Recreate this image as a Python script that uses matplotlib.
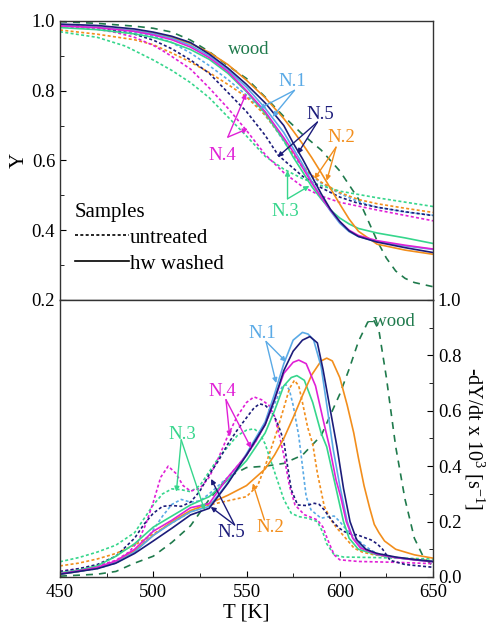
import matplotlib
matplotlib.use("Agg")
import matplotlib.pyplot as plt
from matplotlib.lines import Line2D

plt.rcParams['font.family'] = ['Liberation Serif', 'DejaVu Serif']
plt.rcParams['mathtext.fontset'] = 'custom'
plt.rcParams['mathtext.rm'] = 'Liberation Serif'
plt.rcParams['mathtext.it'] = 'Liberation Serif:italic'

# colours of the samples
c_n1 = '#5aaae6'
c_n2 = '#f28e1c'
c_n3 = '#36d68c'
c_n4 = '#e020d6'
c_n5 = '#1c1c7a'
c_wood = '#1f7a4c'

# ---------------- top panel: Y (mass fraction) ----------------
wood_T = [450, 470, 490, 500, 510, 520, 530, 540, 550, 560, 570, 580, 590, 600,
          610, 615, 620, 625, 630, 635, 640, 650]
wood_Y = [0.998, 0.993, 0.985, 0.979, 0.968, 0.945, 0.912, 0.872, 0.835, 0.782, 0.726,
          0.675, 0.63, 0.57, 0.49, 0.43, 0.37, 0.32, 0.283, 0.262, 0.25, 0.238]

solid_T = [450, 470, 490, 500, 510, 520, 530, 540, 550, 560, 570, 575, 580, 585,
           590, 595, 600, 605, 610, 620, 635, 650]
n1_Y_hw = [0.987, 0.982, 0.972, 0.963, 0.95, 0.93, 0.9, 0.86, 0.81, 0.75, 0.68, 0.635,
           0.59, 0.54, 0.495, 0.455, 0.42, 0.396, 0.382, 0.367, 0.355, 0.345]
n2_Y_hw = [0.987, 0.982, 0.972, 0.964, 0.953, 0.935, 0.91, 0.875, 0.83, 0.78, 0.72, 0.685,
           0.648, 0.608, 0.565, 0.52, 0.475, 0.432, 0.397, 0.36, 0.343, 0.331]
n3_Y_hw = [0.981, 0.975, 0.963, 0.953, 0.938, 0.918, 0.89, 0.85, 0.797, 0.735, 0.658, 0.61,
           0.568, 0.525, 0.49, 0.458, 0.435, 0.418, 0.405, 0.392, 0.378, 0.362]
n4_Y_hw = [0.986, 0.981, 0.97, 0.96, 0.946, 0.925, 0.895, 0.855, 0.80, 0.74, 0.665, 0.625,
           0.58, 0.535, 0.495, 0.458, 0.425, 0.4, 0.385, 0.37, 0.357, 0.346]
n5_Y_hw = [0.991, 0.987, 0.977, 0.968, 0.956, 0.938, 0.905, 0.865, 0.818, 0.765, 0.7, 0.65,
           0.605, 0.555, 0.505, 0.46, 0.425, 0.398, 0.382, 0.366, 0.35, 0.336]

n1_T_un = [450, 480, 500, 510, 520, 530, 540, 550, 557, 565, 570, 575, 580, 585, 590,
           600, 610, 620, 635, 650]
n1_Y_un = [0.986, 0.976, 0.957, 0.938, 0.908, 0.872, 0.832, 0.787, 0.75, 0.695, 0.655,
           0.615, 0.58, 0.555, 0.535, 0.505, 0.482, 0.466, 0.452, 0.443]
n2_T_un = [450, 470, 490, 500, 510, 520, 530, 540, 550, 560, 570, 575, 580, 585, 590,
           600, 610, 620, 635, 650]
n2_Y_un = [0.974, 0.962, 0.946, 0.932, 0.908, 0.882, 0.852, 0.818, 0.782, 0.73, 0.66,
           0.62, 0.585, 0.558, 0.538, 0.508, 0.488, 0.476, 0.463, 0.451]
n3_T_un = [450, 470, 485, 500, 510, 520, 530, 540, 550, 560, 570, 580, 590, 600, 620, 650]
n3_Y_un = [0.969, 0.953, 0.928, 0.888, 0.858, 0.823, 0.78, 0.725, 0.67, 0.612, 0.575,
           0.548, 0.528, 0.512, 0.493, 0.468]
n4_T_un = [450, 470, 480, 490, 500, 505, 510, 520, 530, 540, 550, 560, 570, 580, 590,
           600, 620, 650]
n4_Y_un = [0.985, 0.976, 0.967, 0.953, 0.93, 0.915, 0.898, 0.862, 0.808, 0.75, 0.686,
           0.617, 0.565, 0.525, 0.498, 0.48, 0.458, 0.427]
n5_T_un = [450, 470, 490, 500, 510, 520, 530, 540, 550, 560, 567, 575, 580, 590, 600,
           610, 620, 635, 650]
n5_Y_un = [0.989, 0.982, 0.962, 0.945, 0.92, 0.888, 0.85, 0.795, 0.74, 0.672, 0.615,
           0.578, 0.555, 0.522, 0.495, 0.477, 0.466, 0.453, 0.442]

# ---------------- bottom panel: -dY/dt x 10^3 [1/s] ----------------
wood_T_d = [450, 470, 480, 490, 500, 510, 520, 530, 540, 550, 560, 570, 580, 590, 600,
            605, 610, 615, 618, 621, 625, 630, 635, 640, 645, 650]
wood_D = [0.003, 0.01, 0.02, 0.05, 0.075, 0.125, 0.185, 0.28, 0.36, 0.395, 0.40, 0.41,
          0.44, 0.51, 0.66, 0.75, 0.85, 0.92, 0.93, 0.89, 0.72, 0.47, 0.28, 0.14, 0.07, 0.04]

n1_T_hwd = [450, 460, 470, 480, 490, 500, 510, 520, 530, 540, 550, 560, 565, 570, 575,
            580, 583, 586, 590, 593.5, 596.5, 600, 604, 607, 612, 620, 630, 640, 650]
n1_D_hw = [0.01, 0.02, 0.032, 0.052, 0.09, 0.15, 0.195, 0.235, 0.255, 0.34, 0.445, 0.56,
           0.66, 0.77, 0.855, 0.883, 0.877, 0.855, 0.76, 0.6, 0.46, 0.33, 0.2, 0.14, 0.105,
           0.082, 0.07, 0.062, 0.056]
n2_T_hwd = [450, 460, 470, 480, 490, 500, 510, 520, 530, 540, 550, 560, 565, 570, 575,
            580, 585, 590, 593, 596, 600, 604, 607.5, 610, 613, 616, 618.5, 621, 624, 630,
            640, 650]
n2_D_hw = [0.01, 0.02, 0.032, 0.055, 0.095, 0.15, 0.2, 0.24, 0.265, 0.295, 0.33, 0.39,
           0.44, 0.5, 0.575, 0.655, 0.73, 0.78, 0.79, 0.78, 0.72, 0.62, 0.52, 0.43, 0.33,
           0.25, 0.19, 0.16, 0.13, 0.1, 0.08, 0.068]
n3_T_hwd = [450, 460, 470, 480, 490, 500, 510, 520, 530, 540, 550, 560, 565, 570, 574,
            577, 581, 585.5, 590, 593, 598, 602, 605, 610, 620, 630, 640, 650]
n3_D_hw = [0.015, 0.025, 0.04, 0.075, 0.12, 0.18, 0.22, 0.26, 0.29, 0.35, 0.42, 0.52,
           0.6, 0.69, 0.72, 0.727, 0.71, 0.63, 0.52, 0.47, 0.32, 0.2, 0.14, 0.1, 0.08,
           0.07, 0.062, 0.056]
n4_T_hwd = [450, 460, 470, 480, 490, 500, 510, 520, 530, 540, 550, 555, 560, 565, 570,
            575, 578, 582, 587, 591, 594.5, 598, 600.5, 603.5, 607, 611, 620, 630, 640, 650]
n4_D_hw = [0.012, 0.022, 0.035, 0.058, 0.1, 0.165, 0.205, 0.25, 0.265, 0.36, 0.44, 0.49,
           0.55, 0.64, 0.735, 0.775, 0.783, 0.77, 0.69, 0.57, 0.47, 0.35, 0.29, 0.2, 0.14,
           0.105, 0.082, 0.07, 0.062, 0.055]
n5_T_hwd = [450, 460, 470, 480, 490, 500, 510, 520, 530, 540, 550, 560, 565, 570, 575,
            580, 584, 588, 591, 595, 598.5, 602, 605.5, 609, 614, 620, 630, 640, 650]
n5_D_hw = [0.01, 0.02, 0.03, 0.05, 0.085, 0.13, 0.176, 0.224, 0.248, 0.338, 0.44, 0.55,
           0.64, 0.745, 0.815, 0.855, 0.868, 0.845, 0.75, 0.6, 0.47, 0.32, 0.2, 0.135, 0.1,
           0.085, 0.072, 0.063, 0.056]

n1_T_und = [450, 460, 470, 480, 490, 495, 500, 505, 510, 515, 520, 525, 530, 540, 550,
            555, 560, 565, 569, 571, 573, 575, 578, 580, 582, 584.6, 590, 594, 597, 600,
            602.4, 606, 609.5, 613, 616.7, 620, 630, 640, 650]
n1_D_un = [0.012, 0.02, 0.03, 0.05, 0.09, 0.125, 0.17, 0.22, 0.262, 0.28, 0.27, 0.275,
           0.3, 0.36, 0.44, 0.49, 0.555, 0.625, 0.685, 0.695, 0.675, 0.62, 0.51, 0.40,
           0.29, 0.242, 0.212, 0.218, 0.22, 0.2, 0.18, 0.155, 0.134, 0.115, 0.097, 0.085,
           0.07, 0.062, 0.056]
n2_T_und = [450, 460, 470, 480, 490, 500, 510, 520, 530, 540, 550, 556, 560, 563, 566,
            570, 573, 575.7, 578, 580, 582.8, 585.5, 588, 591.7, 595.3, 598, 602.4, 607.7,
            612, 618.4, 630, 650]
n2_D_un = [0.04, 0.05, 0.065, 0.085, 0.115, 0.155, 0.195, 0.235, 0.26, 0.275, 0.29, 0.33,
           0.4, 0.46, 0.52, 0.61, 0.68, 0.71, 0.69, 0.63, 0.54, 0.48, 0.375, 0.255, 0.206,
           0.18, 0.146, 0.104, 0.09, 0.08, 0.07, 0.058]
n3_T_und = [450, 460, 470, 480, 490, 495, 500, 505, 510, 515, 520, 525, 530, 535, 540,
            545, 550, 554, 557, 560, 563, 566, 570, 574, 578, 583, 588, 591, 593, 597, 602,
            620, 650]
n3_D_un = [0.055, 0.07, 0.09, 0.115, 0.16, 0.21, 0.26, 0.3, 0.318, 0.315, 0.308, 0.33,
           0.38, 0.43, 0.47, 0.51, 0.53, 0.535, 0.52, 0.48, 0.42, 0.36, 0.28, 0.23, 0.218,
           0.212, 0.2, 0.16, 0.12, 0.08, 0.072, 0.07, 0.065]
n4_T_und = [450, 460, 470, 480, 487, 492, 496, 500, 504, 508, 512, 516, 520, 525, 530,
            535, 540, 545, 550, 554, 558, 562, 565, 568, 570, 573, 576, 581, 588, 591,
            593.5, 597, 600, 610, 630, 650]
n4_D_un = [0.02, 0.03, 0.04, 0.06, 0.09, 0.13, 0.19, 0.27, 0.36, 0.40, 0.375, 0.33, 0.31,
           0.32, 0.36, 0.43, 0.51, 0.58, 0.63, 0.65, 0.64, 0.62, 0.58, 0.5, 0.44, 0.33,
           0.26, 0.225, 0.206, 0.18, 0.135, 0.08, 0.062, 0.056, 0.053, 0.048]
n5_T_und = [450, 460, 470, 480, 490, 495, 500, 505, 510, 515, 520, 525, 530, 535, 540,
            545, 550, 554, 557, 560, 563, 566, 568, 570, 572, 574, 577.4, 582, 586.4, 589,
            591.7, 594, 597, 600, 602.4, 606, 609.5, 613, 616.7, 620, 623, 627, 635, 650]
n5_D_un = [0.02, 0.03, 0.045, 0.075, 0.14, 0.19, 0.23, 0.255, 0.258, 0.255, 0.27, 0.31,
           0.37, 0.42, 0.48, 0.53, 0.575, 0.61, 0.625, 0.62, 0.6, 0.565, 0.53, 0.49, 0.4,
           0.315, 0.26, 0.258, 0.266, 0.262, 0.242, 0.22, 0.194, 0.175, 0.164, 0.155,
           0.152, 0.143, 0.134, 0.12, 0.1, 0.06, 0.045, 0.035]

fig = plt.figure(figsize=(4.91, 6.29), dpi=100)
ax1 = fig.add_axes([0.1222, 0.5231, 0.7597, 0.4436])
ax2 = fig.add_axes([0.1222, 0.0827, 0.7597, 0.4404], sharex=ax1)

lw = 1.2
und = (0, (1.8, 1.4))
wood_ls = (0, (4.2, 3.6))

# top panel curves
ax1.plot(wood_T, wood_Y, color=c_wood, lw=lw, ls=wood_ls)
for T, Y, c in [(n1_T_un, n1_Y_un, c_n1), (n2_T_un, n2_Y_un, c_n2), (n3_T_un, n3_Y_un, c_n3),
                (n4_T_un, n4_Y_un, c_n4), (n5_T_un, n5_Y_un, c_n5)]:
    ax1.plot(T, Y, color=c, lw=lw, ls=und)
for Y, c in [(n3_Y_hw, c_n3), (n2_Y_hw, c_n2), (n1_Y_hw, c_n1), (n4_Y_hw, c_n4),
             (n5_Y_hw, c_n5)]:
    ax1.plot(solid_T, Y, color=c, lw=lw)

# bottom panel curves
ax2.plot(wood_T_d, wood_D, color=c_wood, lw=lw, ls=wood_ls)
for T, D, c in [(n1_T_und, n1_D_un, c_n1), (n2_T_und, n2_D_un, c_n2),
                (n3_T_und, n3_D_un, c_n3), (n4_T_und, n4_D_un, c_n4),
                (n5_T_und, n5_D_un, c_n5)]:
    ax2.plot(T, D, color=c, lw=lw, ls=und)
for T, D, c in [(n3_T_hwd, n3_D_hw, c_n3), (n2_T_hwd, n2_D_hw, c_n2),
                (n1_T_hwd, n1_D_hw, c_n1), (n4_T_hwd, n4_D_hw, c_n4),
                (n5_T_hwd, n5_D_hw, c_n5)]:
    ax2.plot(T, D, color=c, lw=lw)

lab_fs = 13.5


def label(ax, txt, pos, start, tips, c):
    ax.text(pos[0], pos[1], txt, color=c, fontsize=lab_fs, ha='center', va='center')
    for tip in tips:
        ax.annotate('', xy=tip, xytext=start,
                    arrowprops=dict(arrowstyle='-|>', color=c, lw=1.0,
                                    mutation_scale=7, shrinkA=0, shrinkB=0))


# top annotations
ax1.text(551, 0.917, 'wood', color=c_wood, fontsize=lab_fs, ha='center', va='center')
label(ax1, 'N.1', (574.6, 0.827), (575.7, 0.801), [(557, 0.749), (564, 0.725)], c_n1)
label(ax1, 'N.5', (589.6, 0.732), (588, 0.71), [(566.7, 0.61), (577.4, 0.619)], c_n5)
label(ax1, 'N.2', (601, 0.665), (598, 0.638), [(586.4, 0.547), (593, 0.542)], c_n2)
label(ax1, 'N.3', (570.8, 0.453), (572, 0.49), [(572, 0.571), (583.7, 0.527)], c_n3)
label(ax1, 'N.4', (537, 0.614), (540, 0.667), [(549.8, 0.792), (550.7, 0.691)], c_n4)

# bottom annotations
ax2.text(614.5, 0.924, '-wood', color=c_wood, fontsize=lab_fs, ha='left', va='center')
label(ax2, 'N.1', (558.6, 0.88), (560.5, 0.85), [(571.2, 0.777), (565.9, 0.70)], c_n1)
label(ax2, 'N.4', (536.8, 0.668), (539, 0.64), [(541, 0.507), (552.5, 0.465)], c_n4)
label(ax2, 'N.3', (515.6, 0.516), (515, 0.495), [(512.4, 0.308), (527.5, 0.242)], c_n3)
label(ax2, 'N.5', (542, 0.16), (543.6, 0.188), [(531, 0.354), (530.8, 0.253)], c_n5)
label(ax2, 'N.2', (562.8, 0.177), (559.6, 0.206), [(553.4, 0.338)], c_n2)

# legend
handles = [Line2D([], [], color='k', lw=lw, ls=und),
           Line2D([], [], color='k', lw=lw)]
leg = ax1.legend(handles, ['untreated', 'hw washed'], title='Samples', loc='upper left',
                 bbox_to_anchor=(0.04, 0.348), frameon=False, fontsize=15,
                 title_fontsize=15, handlelength=2.6, handletextpad=0.05,
                 labelspacing=0.3, borderpad=0, borderaxespad=0, alignment='left')

# axes styling
tick_fs = 13.5
ax1.set_xlim(450, 650)
ax1.set_ylim(0.2, 1.0)
ax1.set_yticks([0.2, 0.4, 0.6, 0.8, 1.0])
ax1.set_yticks([0.3, 0.5, 0.7, 0.9], minor=True)
ax1.tick_params(axis='y', which='both', direction='in', left=True, right=False,
                labelsize=tick_fs)
ax1.tick_params(axis='y', which='major', length=4.5)
ax1.tick_params(axis='y', which='minor', length=3)
ax1.tick_params(axis='x', which='both', bottom=False, top=False, labelbottom=False)
ax1.set_ylabel('Y', fontsize=15, labelpad=2)

ax2.set_ylim(0.0, 1.0)
ax2.set_xticks([450, 500, 550, 600, 650])
ax2.set_xticks([475, 525, 575, 625], minor=True)
ax2.set_yticks([0.0, 0.2, 0.4, 0.6, 0.8, 1.0])
ax2.set_yticks([0.1, 0.3, 0.5, 0.7, 0.9], minor=True)
ax2.yaxis.tick_right()
ax2.yaxis.set_label_position('right')
ax2.tick_params(axis='both', which='both', direction='in', labelsize=tick_fs)
ax2.tick_params(axis='both', which='major', length=4.5)
ax2.tick_params(axis='both', which='minor', length=3)
ax2.tick_params(axis='y', which='both', left=False, right=True)
ax2.tick_params(axis='x', which='both', top=False, pad=5)
ax2.set_xlabel('T [K]', fontsize=15, labelpad=2)
ax2.set_ylabel(r'-dY/dt x 10$^{3}$ [s$^{-1}$]', fontsize=14.5, rotation=270,
               labelpad=18)

for ax in (ax1, ax2):
    for sp in ax.spines.values():
        sp.set_color('#333333')
        sp.set_linewidth(1.0)

fig.savefig('out.png', dpi=100)
